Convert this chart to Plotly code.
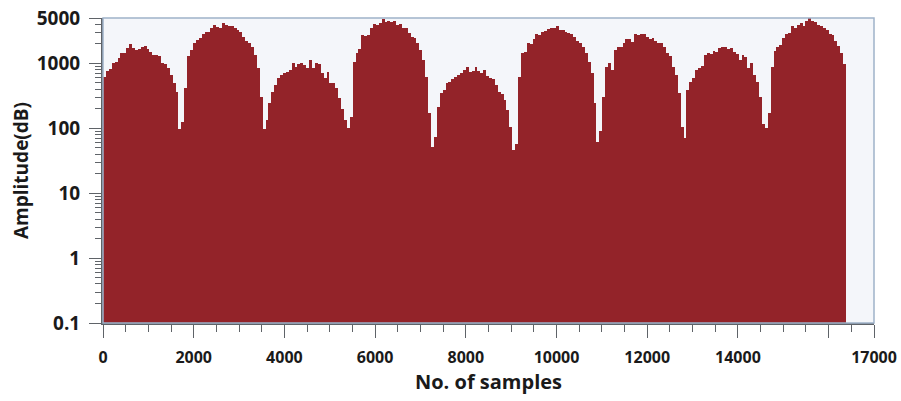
import numpy as np
import plotly.graph_objects as go

# Spectrum amplitude, one value per block of 64 samples (16384 samples total)
sample_step = 64
amplitude = [
    608, 750, 808, 1020, 1060, 1190, 1460, 1430, 1710, 1990,
    1710, 1610, 1650, 1810, 1850, 1650, 1520, 1340, 1340, 1300,
    1020, 975, 840, 660, 491, 365, 98, 125, 420, 1300,
    1610, 2040, 2290, 2430, 2840, 3090, 3090, 3480, 3910, 3610,
    3480, 4150, 3910, 3700, 3780, 3480, 3270, 3090, 2590, 2240,
    2040, 1810, 1340, 840, 306, 96, 133, 241, 365, 462,
    586, 660, 700, 745, 790, 1000, 867, 975, 1020, 940,
    840, 1120, 840, 1000, 975, 700, 586, 745, 491, 491,
    411, 288, 200, 133, 100, 150, 1060, 1460, 1650, 2740,
    2640, 2740, 3480, 4050, 3910, 4250, 4780, 4400, 4560, 4400,
    4560, 3910, 4050, 3480, 3480, 2980, 2590, 2430, 2090, 1610,
    1120, 620, 169, 52, 74, 214, 344, 387, 491, 520,
    566, 620, 660, 717, 790, 867, 745, 770, 890, 770,
    717, 800, 650, 586, 566, 462, 365, 335, 270, 190,
    105, 46, 58, 620, 1430, 1520, 2040, 1990, 2350, 2840,
    2740, 3090, 3200, 3360, 3480, 3480, 3700, 3270, 3270, 3090,
    2980, 2840, 2590, 2240, 2090, 1810, 1460, 1060, 700, 241,
    62, 90, 306, 890, 1020, 790, 1610, 1810, 1810, 2090,
    2350, 2350, 2160, 2840, 2740, 2840, 2840, 2520, 2350, 2430,
    2240, 2090, 2040, 1810, 1460, 1300, 867, 660, 344, 105,
    72, 387, 520, 586, 790, 840, 910, 1340, 1460, 1390,
    1570, 1520, 1710, 1810, 1810, 1650, 1710, 1520, 1390, 1120,
    1340, 1270, 840, 1000, 660, 520, 306, 118, 100, 169,
    890, 1570, 1770, 1920, 2430, 2840, 2980, 3700, 3480, 3910,
    4150, 3770, 4560, 4950, 4560, 4400, 3910, 3700, 3480, 3270,
    2840, 2710, 2240, 1850, 1430, 975,
]

x_major_ticks = [0, 2000, 4000, 6000, 8000, 10000, 12000, 14000, 16000, 17000]
x_major_text = ["0", "2000", "4000", "6000", "8000", "10000", "12000", "14000", "", "17000"]
y_major_ticks = [0.1, 1, 10, 100, 1000, 5000]
y_major_text = ["0.1", "1", "10", "100", "1000", "5000"]

sample_start = np.arange(len(amplitude)) * sample_step
sample_center = sample_start + sample_step / 2

y_minor = [m * 10.0 ** d for d in range(-1, 4) for m in range(2, 10) if m * 10.0 ** d < 5000]

font_family = "Open Sans, Noto Sans, DejaVu Sans, sans-serif"
bar_color = "#932329"
axis_color = "#5f6368"

fig = go.Figure(
    go.Bar(
        x=sample_center,
        y=amplitude,
        width=sample_step,
        marker=dict(color=bar_color, line=dict(width=0)),
        hoverinfo="x+y",
    )
)

fig.update_layout(
    width=901,
    height=401,
    margin=dict(l=103, r=27, t=18, b=78),
    paper_bgcolor="white",
    plot_bgcolor="#f4f6fa",
    bargap=0,
    showlegend=False,
    font=dict(family=font_family, color="#1a1a1a"),
    shapes=[
        dict(
            type="rect", xref="paper", yref="paper", x0=0, y0=0, x1=1, y1=1,
            line=dict(color="#9fb2c9", width=1.5), layer="above",
        )
    ],
)

fig.update_xaxes(
    automargin=False,
    range=[0, 17000],
    tickmode="array",
    tickvals=x_major_ticks,
    ticktext=x_major_text,
    ticks="outside",
    ticklen=13,
    tickwidth=1.3,
    tickcolor=axis_color,
    ticklabelstandoff=6,
    minor=dict(dtick=500, tick0=0, ticks="outside", ticklen=7, tickwidth=1.2, tickcolor=axis_color),
    showgrid=False,
    zeroline=False,
    showline=True,
    linecolor=axis_color,
    linewidth=2,
    tickfont=dict(size=16, family=font_family, weight="bold", color="#1a1a1a"),
    title=dict(text="No. of samples", font=dict(size=20, family=font_family, weight="bold"), standoff=8),
)

fig.update_yaxes(
    automargin=False,
    type="log",
    range=[-1, np.log10(5000)],
    tickmode="array",
    tickvals=y_major_ticks,
    ticktext=y_major_text,
    ticks="outside",
    ticklen=12,
    tickwidth=1.3,
    tickcolor=axis_color,
    ticklabelstandoff=5,
    minor=dict(tickvals=y_minor, ticks="outside", ticklen=6, tickwidth=1.1, tickcolor=axis_color),
    showgrid=False,
    zeroline=False,
    showline=True,
    linecolor=axis_color,
    linewidth=2,
    tickfont=dict(size=19, family=font_family, weight="bold", color="#1a1a1a"),
    title=dict(text="Amplitude(dB)", font=dict(size=19, family=font_family, weight="bold"), standoff=3),
)

fig.write_html("out.html")
